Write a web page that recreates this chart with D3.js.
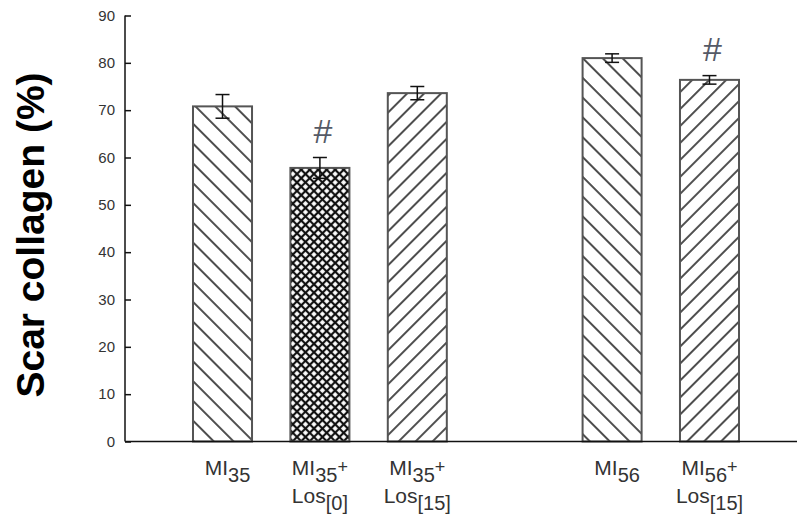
<!DOCTYPE html>
<html>
<head>
<meta charset="utf-8">
<script src="https://cdn.jsdelivr.net/npm/d3@7"></script>
<style>
  body { margin: 0; background: #fff; }
  text { font-family: "Liberation Sans", Arial, sans-serif; }
</style>
</head>
<body>
<div id="chart"></div>
<script>
// data
var groups = ["35", "35", "35", "56", "56"];
var treatments = [null, "[0]", "[15]", null, "[15]"];
var values = [70.8, 57.8, 73.6, 81.0, 76.4];
var errors = [2.5, 2.2, 1.4, 0.9, 0.9];
var significant = [false, true, false, false, true];
var yTicks = [0, 10, 20, 30, 40, 50, 60, 70, 80, 90];

var svgWidth = 797;
var svgHeight = 515;

var svg = d3.select("#chart")
  .append("svg")
  .attr("width", svgWidth)
  .attr("height", svgHeight);

// hatch patterns
var defs = svg.append("defs");

function hatch(id, size, angle, width, color) {
  var p = defs.append("pattern")
    .attr("id", id)
    .attr("patternUnits", "userSpaceOnUse")
    .attr("width", size)
    .attr("height", size)
    .attr("patternTransform", "rotate(" + angle + ")");
  p.append("rect").attr("width", size).attr("height", size).attr("fill", "#fff");
  p.append("line")
    .attr("x1", size / 2).attr("x2", size / 2)
    .attr("y1", 0).attr("y2", size)
    .attr("stroke", color)
    .attr("stroke-width", width);
  return p;
}
hatch("back", 14, -45, 1.6, "#222");
hatch("fwd", 12, 45, 1.6, "#222");

var cross = defs.append("pattern")
  .attr("id", "cross")
  .attr("patternUnits", "userSpaceOnUse")
  .attr("width", 6)
  .attr("height", 6)
  .attr("patternTransform", "rotate(45)");
cross.append("rect").attr("width", 6).attr("height", 6).attr("fill", "#fff");
cross.append("line").attr("x1", 3).attr("x2", 3).attr("y1", 0).attr("y2", 6)
  .attr("stroke", "#111").attr("stroke-width", 2.2);
cross.append("line").attr("x1", 0).attr("x2", 6).attr("y1", 3).attr("y2", 3)
  .attr("stroke", "#111").attr("stroke-width", 2.2);

function fillFor(t) {
  if (t === null) return "url(#back)";
  if (t === "[0]") return "url(#cross)";
  return "url(#fwd)";
}

// slot positions: leave an empty slot between the two groups
var slots = [];
var gap = 0;
groups.forEach(function(g, i) {
  if (i > 0 && g !== groups[i - 1]) gap++;
  slots.push(i + gap);
});

var xAxisLeft = 125;
var yScale = d3.scaleLinear()
  .domain([0, 90])
  .range([441.5, 15.5]);

var xScale = d3.scaleBand()
  .domain(d3.range(d3.max(slots) + 1))
  .range([144.3, 787.7])
  .paddingInner(0.394)
  .paddingOuter(0.5);

var bw = xScale.bandwidth();

// bars
var bars = svg.append("g");
values.forEach(function(v, i) {
  bars.append("rect")
    .attr("x", xScale(slots[i]))
    .attr("y", yScale(v))
    .attr("width", bw)
    .attr("height", yScale(0) - yScale(v))
    .attr("fill", fillFor(treatments[i]))
    .attr("stroke", "#555")
    .attr("stroke-width", 2);
});

// error bars
var err = svg.append("g").attr("stroke", "#111").attr("stroke-width", 1.5);
values.forEach(function(v, i) {
  var cx = xScale(slots[i]) + bw / 2;
  var top = yScale(v + errors[i]);
  var bot = yScale(v - errors[i]);
  err.append("line").attr("x1", cx).attr("x2", cx).attr("y1", top).attr("y2", bot);
  err.append("line").attr("x1", cx - 7).attr("x2", cx + 7).attr("y1", top).attr("y2", top);
  err.append("line").attr("x1", cx - 7).attr("x2", cx + 7).attr("y1", bot).attr("y2", bot);
});

// significance marks
values.forEach(function(v, i) {
  if (!significant[i]) return;
  svg.append("text")
    .attr("x", xScale(slots[i]) + bw / 2 + 3)
    .attr("y", yScale(v + errors[i]) - 15)
    .attr("text-anchor", "middle")
    .attr("font-size", 34)
    .attr("fill", "#555a66")
    .text("#");
});

// y axis
var yAxis = d3.axisRight(yScale)
  .tickValues(yTicks)
  .tickSize(6)
  .tickFormat(d3.format("d"));

var yG = svg.append("g")
  .attr("transform", "translate(" + xAxisLeft + ",0)")
  .call(yAxis);
yG.select(".domain").remove();
yG.selectAll(".tick line").attr("stroke", "#111").attr("stroke-width", 1.5);
yG.selectAll(".tick text")
  .attr("x", -10)
  .attr("text-anchor", "end")
  .attr("font-size", 15)
  .attr("font-family", "Liberation Sans, Arial, sans-serif")
  .attr("fill", "#333");

svg.append("line")
  .attr("x1", xAxisLeft).attr("x2", xAxisLeft)
  .attr("y1", yScale(90)).attr("y2", yScale(0))
  .attr("stroke", "#111").attr("stroke-width", 1.5);

// x axis line
svg.append("line")
  .attr("x1", xAxisLeft).attr("x2", svgWidth)
  .attr("y1", yScale(0)).attr("y2", yScale(0))
  .attr("stroke", "#111").attr("stroke-width", 1.5);

// category labels
groups.forEach(function(g, i) {
  var cx = xScale(slots[i]) + bw / 2;
  var t1 = svg.append("text")
    .attr("x", cx + (treatments[i] === null ? 5 : 0))
    .attr("y", 475)
    .attr("text-anchor", "middle")
    .attr("font-size", 21)
    .attr("fill", "#333");
  t1.append("tspan").text("MI");
  t1.append("tspan").attr("dy", 7).attr("font-size", 20).text(g);
  if (treatments[i] !== null) {
    t1.append("tspan").attr("dy", -9).attr("font-size", 18).text("+");
    var t2 = svg.append("text")
      .attr("x", cx)
      .attr("y", 503)
      .attr("text-anchor", "middle")
      .attr("font-size", 21)
      .attr("fill", "#333");
    t2.append("tspan").text("Los");
    t2.append("tspan").attr("dy", 7).attr("font-size", 20).text(treatments[i]);
  }
});

// y axis title
svg.append("text")
  .attr("transform", "translate(44,235) rotate(-90)")
  .attr("text-anchor", "middle")
  .attr("font-size", 39)
  .attr("font-weight", "bold")
  .attr("fill", "#000")
  .text("Scar collagen (%)");
</script>
</body>
</html>
